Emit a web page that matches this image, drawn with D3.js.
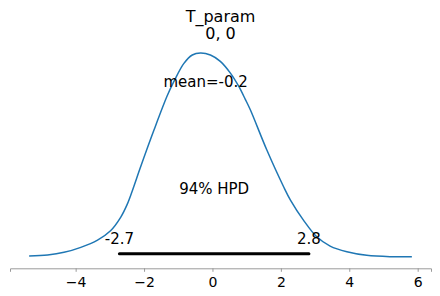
<!DOCTYPE html>
<html>
<head>
<meta charset="utf-8">
<script src="https://d3js.org/d3.v7.min.js"></script>
<style>
  body { margin: 0; background: #fff; }
  svg text { font-family: "DejaVu Sans", sans-serif; fill: #000; }
</style>
</head>
<body>
<div id="chart"></div>
<script>
// KDE of the posterior
const xs = [-5.36, -4.82, -4.34, -3.85, -3.36, -2.98, -2.68, -2.49, -2.34, -2.10, -1.71, -1.32, -1.13, -0.84, -0.59, -0.35, -0.06, 0.23, 0.53, 0.77, 0.96, 1.11, 1.59, 2.08, 2.28, 2.66, 3.05, 3.44, 3.93, 4.51, 5.19, 5.83];
const density = [0.0026, 0.0040, 0.0075, 0.0141, 0.0237, 0.0360, 0.0540, 0.0710, 0.0890, 0.1202, 0.1686, 0.2140, 0.2322, 0.2560, 0.2674, 0.2700, 0.2674, 0.2590, 0.2432, 0.2260, 0.2090, 0.1949, 0.1422, 0.0939, 0.0764, 0.0500, 0.0280, 0.0158, 0.0083, 0.0036, 0.0018, 0.0018];
const meanValue = -0.2;
const hpd = [-2.72, 2.82];
const hpdLabels = ["-2.7", "2.8"];
const xTicks = [-4, -2, 0, 2, 4, 6];
const title = ["T_param", "0, 0"];

const W = 440, H = 296;
const margin = { left: 10, right: 431, top: 42.75, bottom: 268.3 };

const svg = d3.select("#chart").append("svg")
  .attr("width", W)
  .attr("height", H);

// matplotlib style 5% margins
const xmin = d3.min(xs), xmax = d3.max(xs);
const xpad = (xmax - xmin) * 0.05;
const peak = d3.max(density);
const ymaxData = peak * 1.05;

const xScale = d3.scaleLinear().domain([xmin - xpad, xmax + xpad]).range([margin.left, margin.right]);
const yScale = d3.scaleLinear().domain([-peak * 0.05, ymaxData]).range([margin.bottom, margin.top]);

// bottom spine + ticks
const xAxis = d3.axisBottom(xScale)
  .tickValues(xTicks)
  .tickSize(3.5)
  .tickPadding(5)
  .tickFormat(d => (d < 0 ? "\u2212" + Math.abs(d) : String(d)));

const gx = svg.append("g")
  .attr("transform", "translate(0," + margin.bottom + ")")
  .call(xAxis);
gx.select(".domain").attr("stroke", "#9a9a9a").attr("stroke-width", 1);
gx.selectAll(".tick line").attr("stroke", "#9a9a9a");
gx.selectAll(".tick text")
  .style("font-family", "DejaVu Sans")
  .style("font-size", "14px")
  .attr("fill", "#000");

// density curve
const line = d3.line()
  .x((d, i) => xScale(xs[i]))
  .y(d => yScale(d))
  .curve(d3.curveCatmullRom.alpha(0.5));

svg.append("path")
  .datum(density)
  .attr("fill", "none")
  .attr("stroke", "#1f77b4")
  .attr("stroke-width", 1.5)
  .attr("d", line);

// HPD bar
svg.append("line")
  .attr("x1", xScale(hpd[0]))
  .attr("x2", xScale(hpd[1]))
  .attr("y1", yScale(ymaxData * 0.02))
  .attr("y2", yScale(ymaxData * 0.02))
  .attr("stroke", "#000")
  .attr("stroke-width", 3)
  .attr("stroke-linecap", "round");

svg.selectAll(".hpdlab")
  .data(hpd)
  .enter()
  .append("text")
  .attr("class", "hpdlab")
  .attr("x", d => xScale(d))
  .attr("y", yScale(peak * 0.068))
  .attr("text-anchor", "middle")
  .style("font-size", "15px")
  .text((d, i) => hpdLabels[i]);

svg.append("text")
  .attr("x", xScale((hpd[0] + hpd[1]) / 2))
  .attr("y", yScale(peak * 0.312))
  .attr("text-anchor", "middle")
  .style("font-size", "15px")
  .text("94% HPD");

svg.append("text")
  .attr("x", xScale(meanValue))
  .attr("y", yScale(peak * 0.8356))
  .attr("text-anchor", "middle")
  .style("font-size", "15px")
  .text("mean=" + meanValue);

// title
svg.selectAll(".title")
  .data(title)
  .enter()
  .append("text")
  .attr("class", "title")
  .attr("x", (margin.left + margin.right) / 2)
  .attr("y", (d, i) => 21.7 + i * 17.5)
  .attr("text-anchor", "middle")
  .style("font-size", "16px")
  .text(d => d);
</script>
</body>
</html>
